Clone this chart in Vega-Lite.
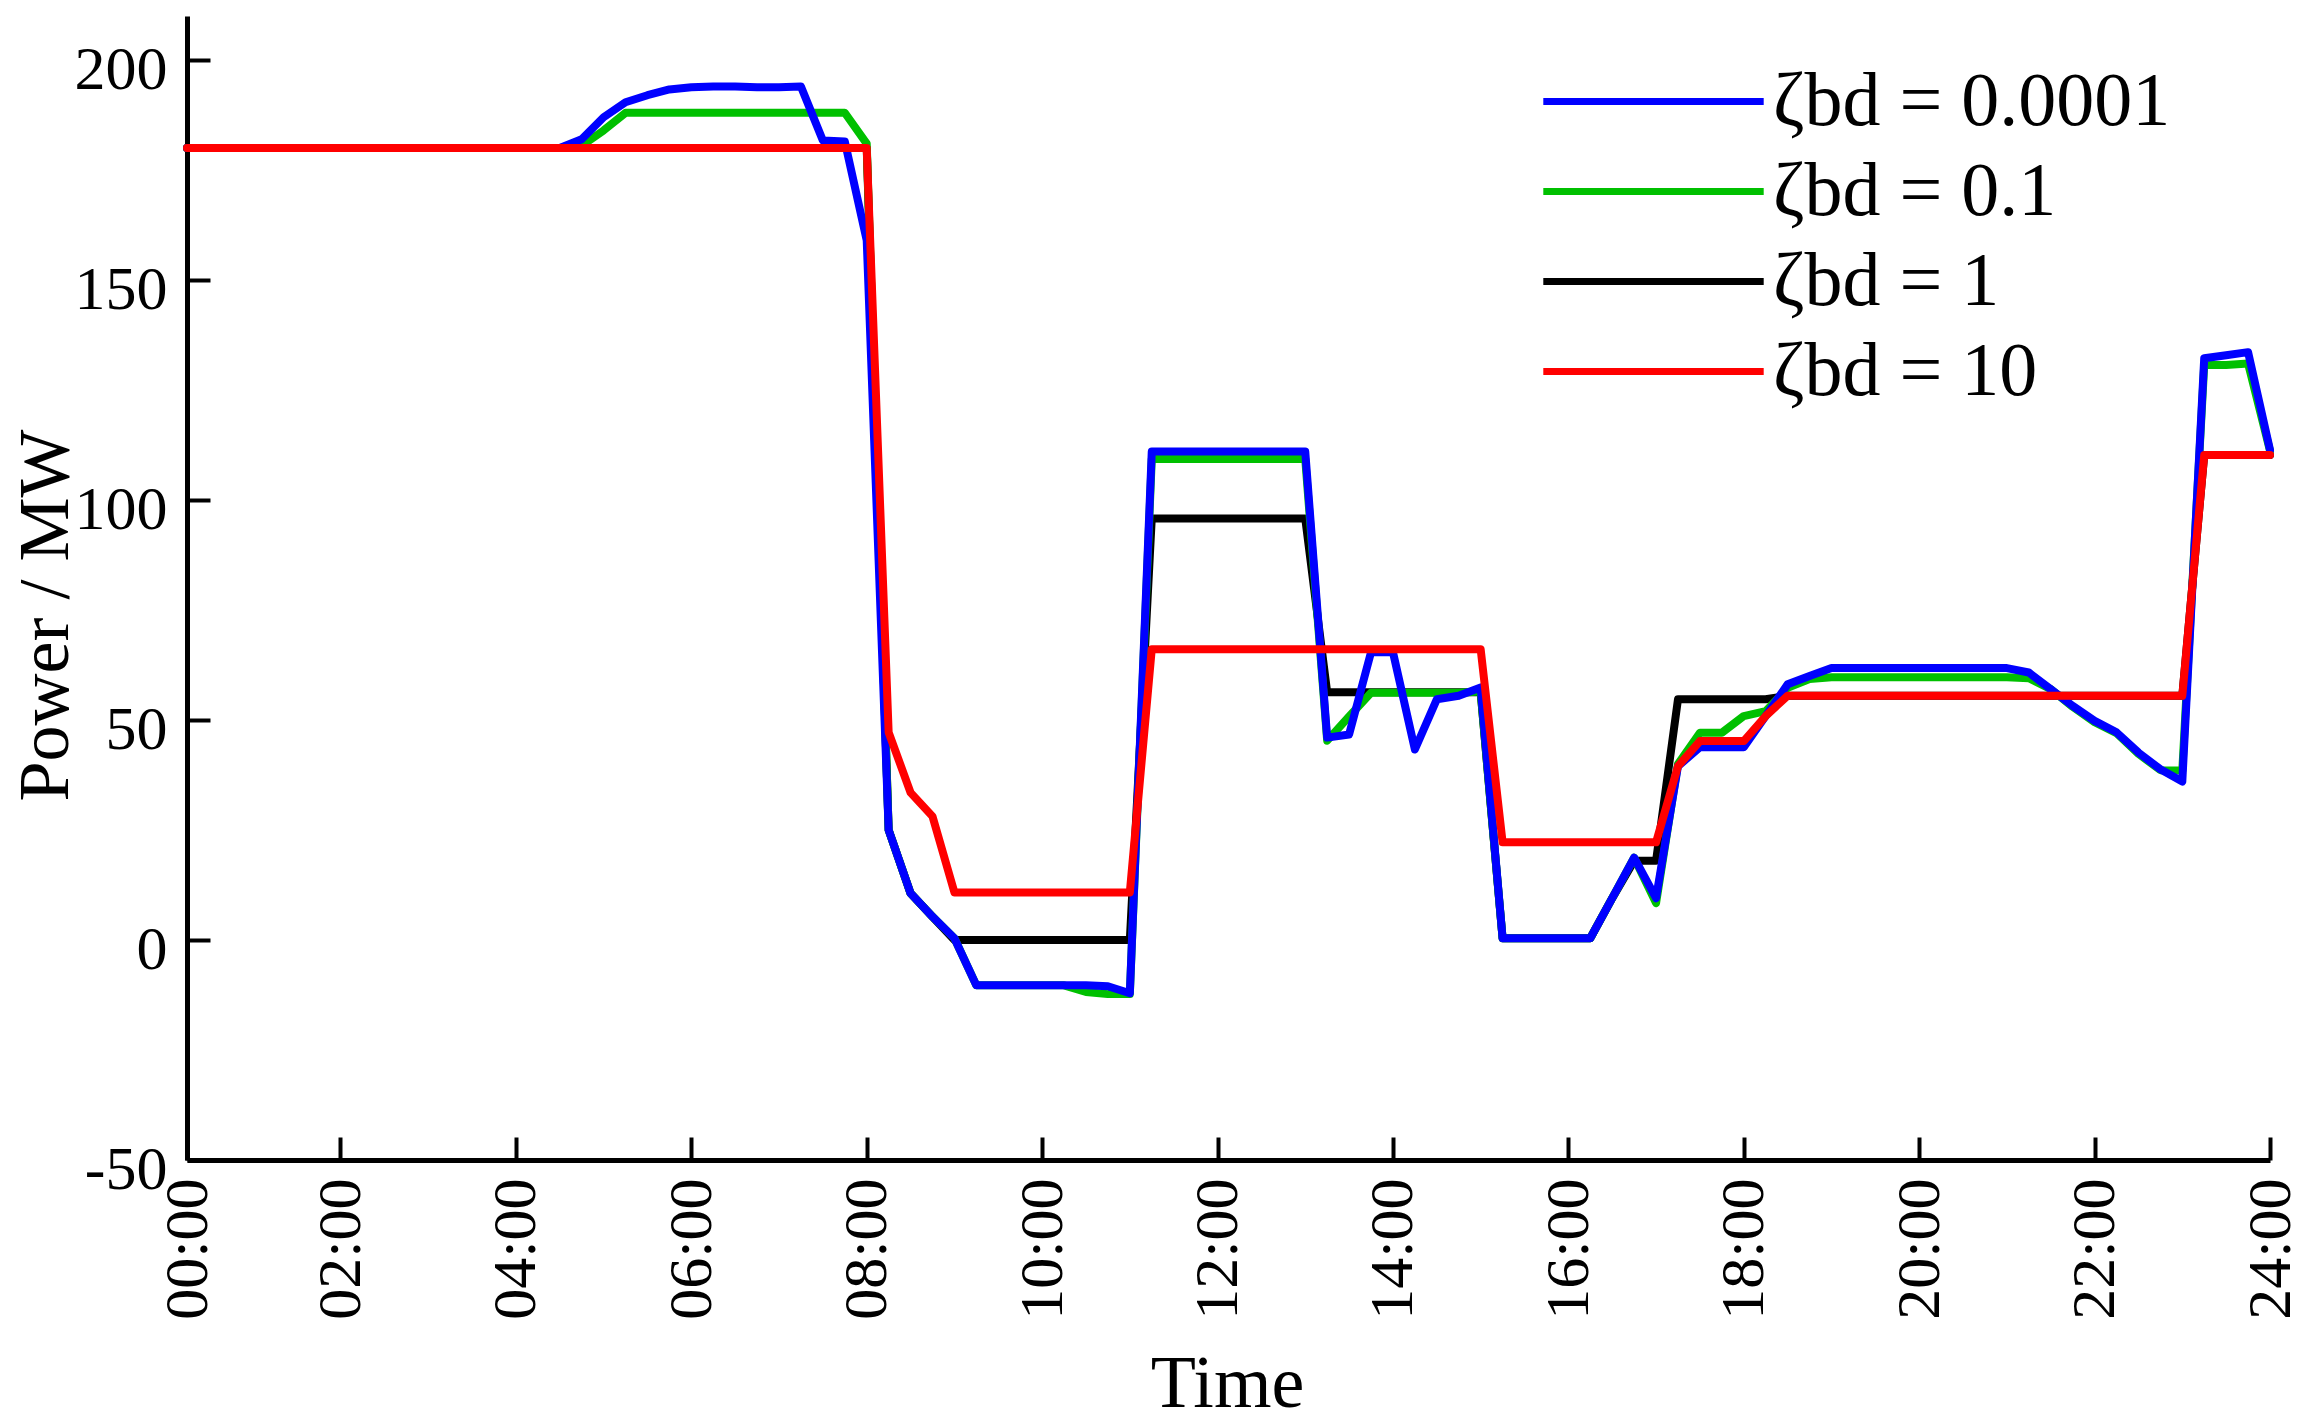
{
  "$schema": "https://vega.github.io/schema/vega-lite/v6.json",
  "width": 2083,
  "height": 1144,
  "autosize": "none",
  "padding": {"left": 187, "top": 16, "right": 44, "bottom": 268},
  "background": "white",
  "config": {"view": {"stroke": null}},
  "data": {"values": [
    {"t":0.25,"s1":180,"s2":180,"s3":180,"s4":180},
    {"t":0.5,"s1":180,"s2":180,"s3":180,"s4":180},
    {"t":0.75,"s1":180,"s2":180,"s3":180,"s4":180},
    {"t":1.0,"s1":180,"s2":180,"s3":180,"s4":180},
    {"t":1.25,"s1":180,"s2":180,"s3":180,"s4":180},
    {"t":1.5,"s1":180,"s2":180,"s3":180,"s4":180},
    {"t":1.75,"s1":180,"s2":180,"s3":180,"s4":180},
    {"t":2.0,"s1":180,"s2":180,"s3":180,"s4":180},
    {"t":2.25,"s1":180,"s2":180,"s3":180,"s4":180},
    {"t":2.5,"s1":180,"s2":180,"s3":180,"s4":180},
    {"t":2.75,"s1":180,"s2":180,"s3":180,"s4":180},
    {"t":3.0,"s1":180,"s2":180,"s3":180,"s4":180},
    {"t":3.25,"s1":180,"s2":180,"s3":180,"s4":180},
    {"t":3.5,"s1":180,"s2":180,"s3":180,"s4":180},
    {"t":3.75,"s1":180,"s2":180,"s3":180,"s4":180},
    {"t":4.0,"s1":180,"s2":180,"s3":180,"s4":180},
    {"t":4.25,"s1":180,"s2":180,"s3":180,"s4":180},
    {"t":4.5,"s1":180,"s2":180,"s3":180,"s4":180},
    {"t":4.75,"s1":182,"s2":180.5,"s3":180,"s4":180},
    {"t":5.0,"s1":187,"s2":184,"s3":180,"s4":180},
    {"t":5.25,"s1":190.4,"s2":188,"s3":180,"s4":180},
    {"t":5.5,"s1":192,"s2":188,"s3":180,"s4":180},
    {"t":5.75,"s1":193.3,"s2":188,"s3":180,"s4":180},
    {"t":6.0,"s1":193.8,"s2":188,"s3":180,"s4":180},
    {"t":6.25,"s1":194,"s2":188,"s3":180,"s4":180},
    {"t":6.5,"s1":194,"s2":188,"s3":180,"s4":180},
    {"t":6.75,"s1":193.8,"s2":188,"s3":180,"s4":180},
    {"t":7.0,"s1":193.8,"s2":188,"s3":180,"s4":180},
    {"t":7.25,"s1":194,"s2":188,"s3":180,"s4":180},
    {"t":7.5,"s1":181.7,"s2":188,"s3":180,"s4":180},
    {"t":7.75,"s1":181.5,"s2":188,"s3":180,"s4":180},
    {"t":8.0,"s1":159,"s2":181,"s3":180,"s4":180},
    {"t":8.25,"s1":25,"s2":25,"s3":25,"s4":47.2},
    {"t":8.5,"s1":10.6,"s2":10.6,"s3":10.6,"s4":33.5},
    {"t":8.75,"s1":5.3,"s2":5.3,"s3":5.3,"s4":28.1},
    {"t":9.0,"s1":0.4,"s2":0.4,"s3":0,"s4":10.8},
    {"t":9.25,"s1":-10.3,"s2":-10.3,"s3":0,"s4":10.8},
    {"t":9.5,"s1":-10.3,"s2":-10.3,"s3":0,"s4":10.8},
    {"t":9.75,"s1":-10.3,"s2":-10.3,"s3":0,"s4":10.8},
    {"t":10.0,"s1":-10.3,"s2":-10.3,"s3":0,"s4":10.8},
    {"t":10.25,"s1":-10.3,"s2":-10.3,"s3":0,"s4":10.8},
    {"t":10.5,"s1":-10.3,"s2":-11.8,"s3":0,"s4":10.8},
    {"t":10.75,"s1":-10.5,"s2":-12.3,"s3":0,"s4":10.8},
    {"t":11.0,"s1":-12.1,"s2":-12.3,"s3":0,"s4":10.8},
    {"t":11.25,"s1":111,"s2":109.3,"s3":95.8,"s4":66.1},
    {"t":11.5,"s1":111,"s2":109.3,"s3":95.8,"s4":66.1},
    {"t":11.75,"s1":111,"s2":109.3,"s3":95.8,"s4":66.1},
    {"t":12.0,"s1":111,"s2":109.3,"s3":95.8,"s4":66.1},
    {"t":12.25,"s1":111,"s2":109.3,"s3":95.8,"s4":66.1},
    {"t":12.5,"s1":111,"s2":109.3,"s3":95.8,"s4":66.1},
    {"t":12.75,"s1":111,"s2":109.3,"s3":95.8,"s4":66.1},
    {"t":13.0,"s1":111,"s2":109.3,"s3":95.8,"s4":66.1},
    {"t":13.25,"s1":46,"s2":45.3,"s3":56.3,"s4":66.1},
    {"t":13.5,"s1":46.7,"s2":50.8,"s3":56.3,"s4":66.1},
    {"t":13.75,"s1":65.4,"s2":56.2,"s3":56.3,"s4":66.1},
    {"t":14.0,"s1":65.4,"s2":56.2,"s3":56.3,"s4":66.1},
    {"t":14.25,"s1":43.3,"s2":56.2,"s3":56.3,"s4":66.1},
    {"t":14.5,"s1":54.7,"s2":56.2,"s3":56.3,"s4":66.1},
    {"t":14.75,"s1":55.5,"s2":56.2,"s3":56.3,"s4":66.1},
    {"t":15.0,"s1":57.4,"s2":56.5,"s3":56.3,"s4":66.1},
    {"t":15.25,"s1":0.4,"s2":0.4,"s3":0.4,"s4":22.2},
    {"t":15.5,"s1":0.4,"s2":0.4,"s3":0.4,"s4":22.2},
    {"t":15.75,"s1":0.4,"s2":0.4,"s3":0.4,"s4":22.2},
    {"t":16.0,"s1":0.4,"s2":0.4,"s3":0.4,"s4":22.2},
    {"t":16.25,"s1":0.4,"s2":0.4,"s3":0.4,"s4":22.2},
    {"t":16.5,"s1":9.5,"s2":9.5,"s3":9.5,"s4":22.2},
    {"t":16.75,"s1":18.7,"s2":18.7,"s3":18,"s4":22.2},
    {"t":17.0,"s1":9.5,"s2":8.4,"s3":18,"s4":22.2},
    {"t":17.25,"s1":39.5,"s2":40,"s3":54.7,"s4":39.5},
    {"t":17.5,"s1":43.8,"s2":47.1,"s3":54.7,"s4":45.2},
    {"t":17.75,"s1":43.8,"s2":47.1,"s3":54.7,"s4":45.2},
    {"t":18.0,"s1":43.8,"s2":50.9,"s3":54.7,"s4":45.2},
    {"t":18.25,"s1":50.9,"s2":52,"s3":54.7,"s4":50.9},
    {"t":18.5,"s1":58.1,"s2":57.3,"s3":55.5,"s4":55.5},
    {"t":18.75,"s1":60,"s2":59.3,"s3":55.5,"s4":55.5},
    {"t":19.0,"s1":61.8,"s2":59.7,"s3":55.5,"s4":55.5},
    {"t":19.25,"s1":61.8,"s2":59.7,"s3":55.5,"s4":55.5},
    {"t":19.5,"s1":61.8,"s2":59.7,"s3":55.5,"s4":55.5},
    {"t":19.75,"s1":61.8,"s2":59.7,"s3":55.5,"s4":55.5},
    {"t":20.0,"s1":61.8,"s2":59.7,"s3":55.5,"s4":55.5},
    {"t":20.25,"s1":61.8,"s2":59.7,"s3":55.5,"s4":55.5},
    {"t":20.5,"s1":61.8,"s2":59.7,"s3":55.5,"s4":55.5},
    {"t":20.75,"s1":61.8,"s2":59.7,"s3":55.5,"s4":55.5},
    {"t":21.0,"s1":61.8,"s2":59.7,"s3":55.5,"s4":55.5},
    {"t":21.25,"s1":60.8,"s2":59.5,"s3":55.5,"s4":55.5},
    {"t":21.5,"s1":57,"s2":57,"s3":55.5,"s4":55.5},
    {"t":21.75,"s1":53.2,"s2":53,"s3":55.5,"s4":55.5},
    {"t":22.0,"s1":49.8,"s2":49.5,"s3":55.5,"s4":55.5},
    {"t":22.25,"s1":47.2,"s2":47,"s3":55.5,"s4":55.5},
    {"t":22.5,"s1":42.6,"s2":42.3,"s3":55.5,"s4":55.5},
    {"t":22.75,"s1":38.8,"s2":38.6,"s3":55.5,"s4":55.5},
    {"t":23.0,"s1":36,"s2":38.5,"s3":55.5,"s4":55.5},
    {"t":23.25,"s1":132.2,"s2":130.7,"s3":110.2,"s4":110.2},
    {"t":23.5,"s1":132.9,"s2":130.7,"s3":110.2,"s4":110.2},
    {"t":23.75,"s1":133.6,"s2":131,"s3":110.2,"s4":110.2},
    {"t":24.0,"s1":111.4,"s2":111.2,"s3":110.2,"s4":110.2}
  ]},
  "transform": [{"fold": ["s3", "s2", "s1", "s4"], "as": ["series", "p"]}],
  "mark": {"type": "line", "strokeWidth": 8, "strokeJoin": "round", "strokeCap": "round"},
  "encoding": {
    "x": {
      "field": "t", "type": "quantitative",
      "scale": {"domain": [0.25, 24], "nice": false, "zero": false},
      "axis": {
        "values": [0.25, 2, 4, 6, 8, 10, 12, 14, 16, 18, 20, 22, 24],
        "labelExpr": "datum.value < 1 ? '00:00' : (datum.value < 10 ? '0' : '') + format(datum.value, 'd') + ':00'",
        "labelAngle": -90, "labelAlign": "right", "labelBaseline": "middle",
        "labelFont": "Liberation Serif", "labelFontSize": 62, "labelColor": "black",
        "labelPadding": 41, "labelOverlap": false, "labelFlush": false,
        "grid": false, "domainColor": "black", "domainWidth": 5,
        "tickColor": "black", "tickWidth": 4, "tickSize": -23,
        "title": "Time", "titleFont": "Liberation Serif", "titleFontSize": 74,
        "titleFontWeight": "normal", "titleColor": "black",
        "titleX": 1040, "titleY": 246, "titleBaseline": "alphabetic", "titleAlign": "center"
      }
    },
    "y": {
      "field": "p", "type": "quantitative",
      "scale": {"domain": [-50, 210], "nice": false, "zero": false},
      "axis": {
        "values": [-50, 0, 50, 100, 150, 200],
        "labelExpr": "datum.value < 0 ? '-' + format(-datum.value, 'd') : format(datum.value, 'd')",
        "labelFont": "Liberation Serif", "labelFontSize": 62, "labelColor": "black",
        "labelPadding": 43, "labelOffset": 9, "labelOverlap": false, "labelFlush": false,
        "grid": false, "domainColor": "black", "domainWidth": 5,
        "tickColor": "black", "tickWidth": 4, "tickSize": -23,
        "title": "Power / MW", "titleFont": "Liberation Serif", "titleFontSize": 72,
        "titleFontWeight": "normal", "titleColor": "black",
        "titleX": -120, "titleY": 599, "titleAngle": -90,
        "titleBaseline": "alphabetic", "titleAlign": "center"
      }
    },
    "color": {
      "field": "series", "type": "nominal",
      "scale": {"domain": ["s1", "s2", "s3", "s4"], "range": ["#0000ff", "#00c000", "#000000", "#ff0000"]},
      "legend": {
        "orient": "none", "legendX": 1425, "legendY": 44, "padding": 0,
        "title": null,
        "symbolType": "M-2.9,0H2.9", "symbolSize": 5776, "symbolStrokeWidth": 7,
        "labelExpr": "datum.value == 's1' ? 'ζbd = 0.0001' : datum.value == 's2' ? 'ζbd = 0.1' : datum.value == 's3' ? 'ζbd = 1' : 'ζbd = 10'",
        "labelFont": "Liberation Serif", "labelFontSize": 76, "labelColor": "black",
        "labelOffset": 78, "rowPadding": 10, "labelLimit": 0
      }
    }
  }
}
